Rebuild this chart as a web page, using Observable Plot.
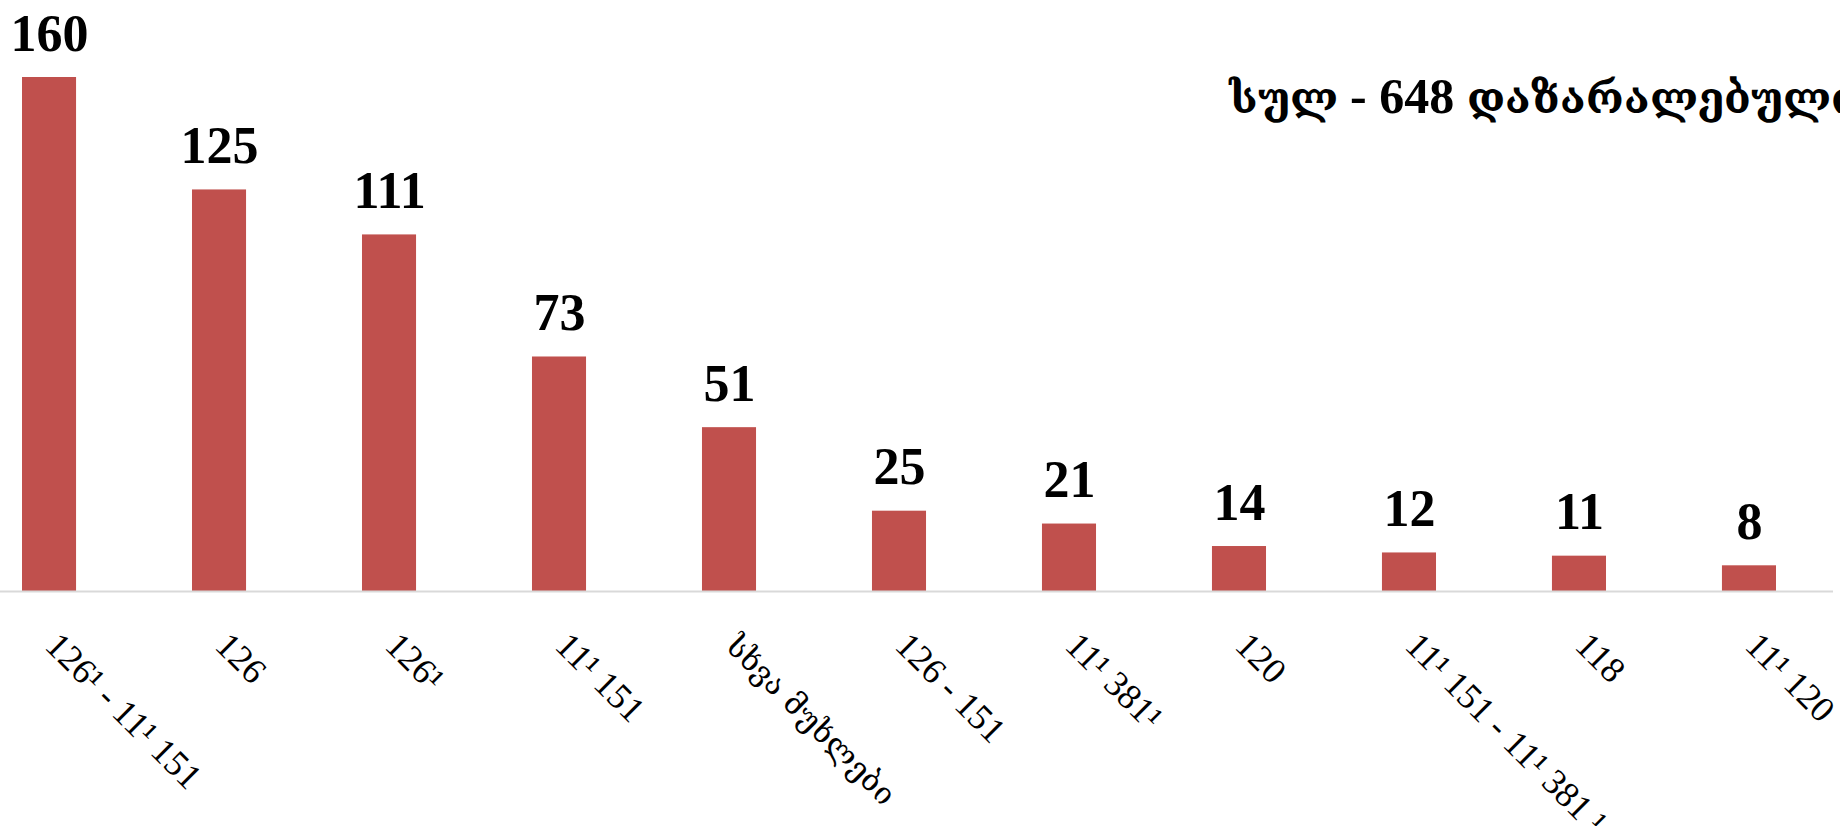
<!DOCTYPE html>
<html>
<head>
<meta charset="utf-8">
<script src="https://cdn.jsdelivr.net/npm/d3@7"></script>
<script src="https://cdn.jsdelivr.net/npm/@observablehq/plot@0.6"></script>
<style>
  @font-face {
    font-family: "GeoSerif";
    src: local("DejaVu Serif"), local("DejaVuSerif");
    font-weight: normal;
    size-adjust: 85%;
    unicode-range: U+10A0-10FF, U+1C90-1CBF, U+2D00-2D2F;
  }
  @font-face {
    font-family: "GeoSerif";
    src: local("DejaVu Serif Bold"), local("DejaVuSerif-Bold");
    font-weight: bold;
    size-adjust: 85%;
    unicode-range: U+10A0-10FF, U+1C90-1CBF, U+2D00-2D2F;
  }
  html, body { margin: 0; padding: 0; background: #ffffff; overflow: hidden; }
  #chart { width: 1840px; height: 826px; overflow: hidden; }
</style>
</head>
<body>
<div id="chart"></div>
<script>
const categories = [
  "126¹ - 11¹ 151",
  "126",
  "126¹",
  "11¹ 151",
  "სხვა მუხლები",
  "126 - 151",
  "11¹ 381¹",
  "120",
  "11¹ 151 - 11¹ 381 ¹",
  "118",
  "11¹ 120"
];
const values = [160, 125, 111, 73, 51, 25, 21, 14, 12, 11, 8];
const totalLabel = "სულ - 648 დაზარალებული";

const data = categories.map((c, i) => ({category: c, value: values[i]}));
const FONT = '"Liberation Serif", "GeoSerif", "DejaVu Serif", serif';

const chart = Plot.plot({
  width: 1840,
  height: 826,
  marginTop: 77,
  marginBottom: 235,
  marginLeft: 0,
  marginRight: 7,
  style: {fontFamily: FONT, background: "#ffffff", overflow: "visible"},
  x: {domain: categories, range: [22, 1776], paddingInner: 0.682, paddingOuter: 0, round: false, axis: null},
  y: {domain: [0, 160], axis: null},
  marks: [
    Plot.barY(data, {x: "category", y: "value", fill: "#C0504D"}),
    Plot.ruleY([0], {stroke: "#d9d9d9", strokeWidth: 2}),
    Plot.text(data, {
      x: "category", y: "value", text: d => String(d.value),
      lineAnchor: "bottom", dy: -27,
      fontSize: 52, fontWeight: "bold", fill: "#000000", fontFamily: FONT
    }),
    Plot.text(data, {
      x: "category", text: "category", frameAnchor: "bottom",
      rotate: 45, textAnchor: "start", lineAnchor: "bottom",
      dx: -6, dy: 56, fontSize: 36, fill: "#000000", fontFamily: FONT
    }),
    Plot.text([totalLabel], {
      frameAnchor: "top-left", text: d => d, textAnchor: "start", lineAnchor: "bottom",
      dx: 1228, dy: 35, fontSize: 50, fontWeight: "bold", fill: "#000000", fontFamily: FONT
    })
  ]
});
document.getElementById("chart").appendChild(chart);
</script>
</body>
</html>
